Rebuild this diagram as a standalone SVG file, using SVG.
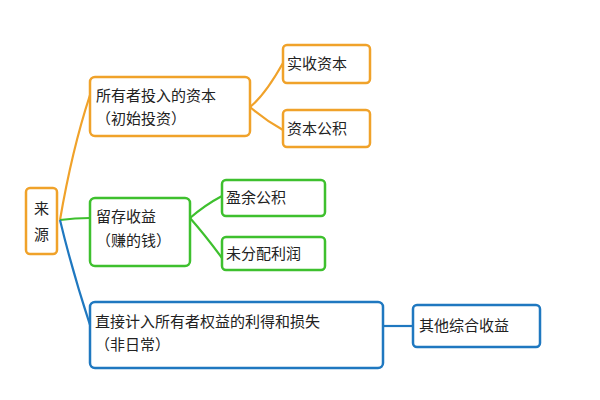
<svg xmlns="http://www.w3.org/2000/svg" width="600" height="400" viewBox="0 0 600 400">
<style>
rect{fill:#fff;stroke-width:2.5}
.o{stroke:#f0a22a}.g{stroke:#3ec02e}.b{stroke:#1f78c0}
text{font-family:"Noto Sans CJK SC","Noto Sans",sans-serif;font-size:15px;fill:#222}
path{fill:none;stroke-width:2.2}
</style>
<rect width="600" height="400" style="fill:#fff;stroke:none"/>
<g id="connectors">
<path class="o" d="M60,220 Q72,150 90,95"/>
<path class="g" d="M60,220 Q75,218 90,218"/>
<path class="b" d="M60,220 Q72,270 90,325"/>
<path class="o" d="M250,107 Q265,95 283,63"/>
<path class="o" d="M250,107 Q265,120 283,130"/>
<path class="g" d="M190,218 Q205,205 222,196"/>
<path class="g" d="M190,218 Q205,235 222,258"/>
<path class="b" d="M383,326 L413,326"/>
</g>
<g id="n-root"><rect class="o" x="26" y="188" width="31" height="66" rx="4"/><text x="34" y="214">来</text><text x="34" y="240">源</text></g>
<g id="n-invest"><rect class="o" x="90" y="77" width="160" height="59" rx="5"/><text x="96" y="101">所有者投入的资本</text><text x="96" y="124">（初始投资）</text></g>
<g id="n-paid"><rect class="o" x="283" y="45" width="87" height="38" rx="4"/><text x="287" y="69">实收资本</text></g>
<g id="n-surplus"><rect class="o" x="283" y="110" width="87" height="37" rx="4"/><text x="287" y="134">资本公积</text></g>
<g id="n-retained"><rect class="g" x="90" y="198" width="100" height="68" rx="5"/><text x="96" y="222">留存收益</text><text x="96" y="246">（赚的钱）</text></g>
<g id="n-reserve"><rect class="g" x="222" y="180" width="103" height="36" rx="4"/><text x="226" y="203">盈余公积</text></g>
<g id="n-undist"><rect class="g" x="222" y="237" width="103" height="33" rx="4"/><text x="226" y="259">未分配利润</text></g>
<g id="n-direct"><rect class="b" x="90" y="302" width="293" height="66" rx="5"/><text x="95" y="327">直接计入所有者权益的利得和损失</text><text x="95" y="350">（非日常）</text></g>
<g id="n-oci"><rect class="b" x="413" y="305" width="127" height="42" rx="4"/><text x="419" y="331">其他综合收益</text></g>
</svg>
